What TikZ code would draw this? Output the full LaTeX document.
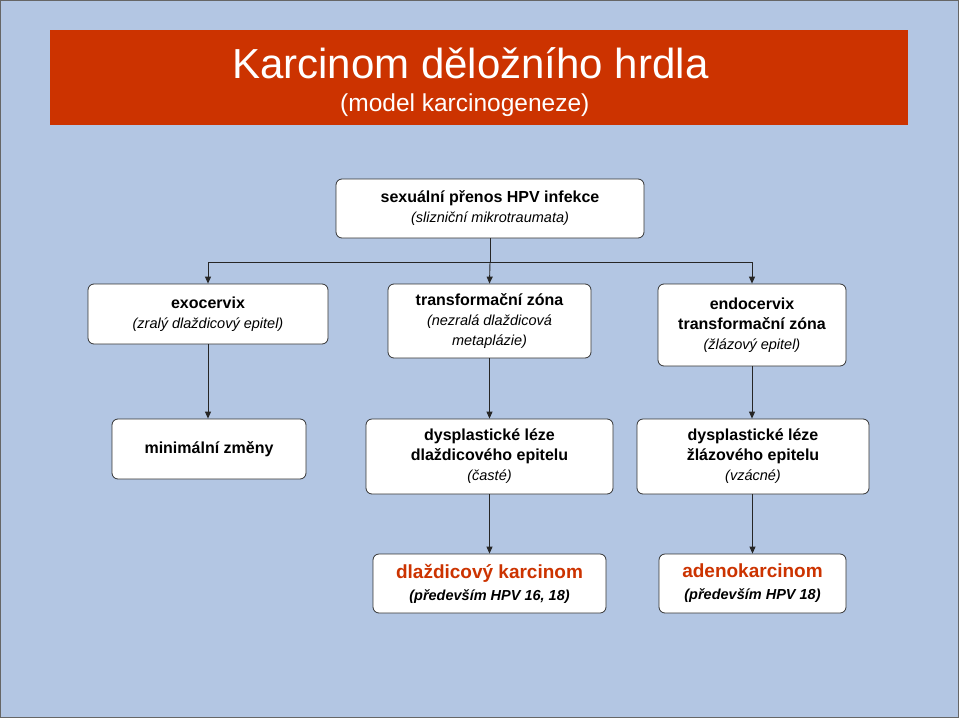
\documentclass[tikz,border=0pt]{standalone}
\usepackage{fontspec}
\setmainfont{Liberation Sans}
\usetikzlibrary{arrows.meta}
\definecolor{bg}{HTML}{B3C6E3}
\definecolor{tred}{HTML}{CC3300}
\begin{document}
\begin{tikzpicture}[x=1pt,y=-1pt,
  box/.style={draw=black!80,fill=white,rounded corners=6pt,line width=0.8pt,align=center,inner sep=0pt,font=\bfseries\fontsize{16}{20}\selectfont},
  conn/.style={draw=black!85,line width=0.9pt,-{Triangle[length=7pt,width=6pt]}}]
\path[fill=bg,draw=black!60] (0.5,0.5) rectangle (958.5,717.5);
\useasboundingbox (0,0) rectangle (959,718);
\fill[tred] (50,30) rectangle (908,125);
\node[anchor=base west,text=white,font=\fontsize{42}{44}\selectfont,inner sep=0pt] (t1) at (232,78) {Karcinom děložního hrdla};
\node[anchor=base west,text=white,font=\fontsize{24.5}{26}\selectfont,inner sep=0pt] (t2) at (340,111) {(model karcinogeneze)};
\newcommand{\sub}[1]{{\normalfont\itshape\fontsize{14.5}{18}\selectfont #1}}
\node[box,minimum width=308pt,minimum height=59pt] (top) at (490,208.5) {sexuální přenos HPV infekce\\\sub{(slizniční mikrotraumata)}};
\node[box,minimum width=240pt,minimum height=60pt] (exo) at (208,314) {exocervix\\\sub{(zralý dlaždicový epitel)}};
\node[box,minimum width=203pt,minimum height=74pt] (tz) at (489.5,321) {transformační zóna\\\sub{(nezralá dlaždicová}\\\sub{metaplázie)}};
\node[box,minimum width=188pt,minimum height=82pt] (endo) at (752,325) {endocervix\\transformační zóna\\\sub{(žlázový epitel)}};
\node[box,minimum width=194pt,minimum height=60pt] (min) at (209,449) {minimální změny};
\node[box,minimum width=247pt,minimum height=75pt] (d1) at (489.5,456.5) {dysplastické léze\\dlaždicového epitelu\\\sub{(časté)}};
\node[box,minimum width=232pt,minimum height=75pt] (d2) at (753,456.5) {dysplastické léze\\žlázového epitelu\\\sub{(vzácné)}};
\node[box,minimum width=233pt,minimum height=59pt,font=\bfseries\fontsize{19}{22}\selectfont] (c1) at (489.5,583.5) {\textcolor{tred}{dlaždicový karcinom}\\\sub{\bfseries(především HPV 16, 18)}};
\node[box,minimum width=187pt,minimum height=59pt,font=\bfseries\fontsize{19}{22}\selectfont] (c2) at (752.5,583.5) {\textcolor{tred}{adenokarcinom}\\\sub{\bfseries(především HPV 18)}};
\coordinate (j) at (490,262);
\draw[line width=0.9pt,draw=black!85] (top.south) -- (j);
\draw[conn] (j) -| (exo.north);
\draw[conn] (j) -- (tz.north);
\draw[conn] (j) -| (endo.north);
\draw[conn] (exo.south) -- (min.north-|exo.south);
\draw[conn] (tz.south) -- (d1.north);
\draw[conn] (endo.south) -- (d2.north-|endo.south);
\draw[conn] (d1.south) -- (c1.north);
\draw[conn] (d2.south-|c2.north) -- (c2.north);
\end{tikzpicture}
\end{document}
